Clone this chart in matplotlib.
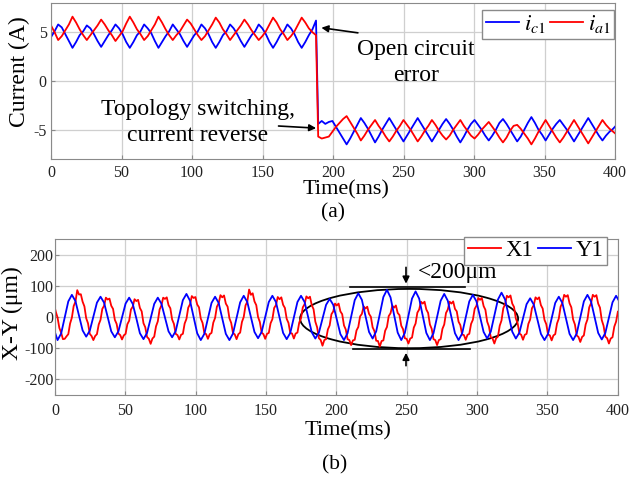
import numpy as np
import matplotlib
matplotlib.use("Agg")
import matplotlib.pyplot as plt
from matplotlib.patches import Ellipse

plt.rcParams['font.family'] = ['Liberation Serif', 'DejaVu Serif']
plt.rcParams['mathtext.fontset'] = 'stix'
plt.rcParams['axes.unicode_minus'] = False

# ---- (a) currents, sampled before and after the switching instant ----
t_pre = np.arange(75) * 2.54
t_post = 189.5 + np.arange(85) * 2.52

ia1_pre = [5.7, 5.0, 4.2, 4.6, 5.2, 5.8, 6.6, 6.0,
           5.3, 4.7, 4.2, 4.7, 5.2, 5.7, 6.3, 5.8,
           5.2, 4.7, 4.1, 4.6, 5.1, 5.9, 6.6, 6.0,
           5.3, 4.8, 4.2, 4.6, 5.2, 5.8, 6.6, 6.0,
           5.3, 4.7, 4.2, 4.7, 5.1, 5.7, 6.3, 5.9,
           5.3, 4.7, 4.2, 4.6, 5.2, 5.8, 6.5, 6.0,
           5.3, 4.8, 4.2, 4.7, 5.2, 5.7, 6.3, 5.8,
           5.2, 4.7, 4.2, 4.6, 5.1, 5.8, 6.5, 6.0,
           5.3, 4.8, 4.2, 4.6, 5.1, 5.8, 6.5, 6.0,
           5.4, 5.0, 4.7]
ic1_pre = [4.5, 5.1, 5.8, 5.5, 4.8, 4.1, 3.4, 4.0,
           4.7, 5.1, 5.7, 5.4, 4.8, 4.1, 3.5, 4.1,
           4.7, 5.2, 5.8, 5.4, 4.8, 4.0, 3.4, 4.0,
           4.7, 5.1, 5.8, 5.4, 4.9, 4.1, 3.4, 4.0,
           4.6, 5.1, 5.8, 5.3, 4.8, 4.1, 3.5, 4.1,
           4.7, 5.1, 5.8, 5.4, 4.8, 4.0, 3.4, 4.0,
           4.7, 5.1, 5.8, 5.4, 4.8, 4.1, 3.5, 4.1,
           4.7, 5.1, 5.8, 5.4, 4.8, 4.0, 3.4, 4.0,
           4.7, 5.1, 5.8, 5.4, 4.8, 4.0, 3.4, 4.0,
           4.7, 5.3, 6.2]
ia1_post = [-5.7, -5.9, -5.8, -5.7, -5.2, -4.7, -4.3, -3.9,
            -3.6, -4.2, -4.8, -5.4, -6.1, -5.6, -5.0, -4.5,
            -4.0, -4.6, -5.1, -5.7, -6.2, -5.7, -5.1, -4.6,
            -4.0, -4.5, -5.0, -5.6, -6.2, -5.7, -5.1, -4.6,
            -4.0, -4.5, -5.1, -5.6, -6.0, -5.6, -5.0, -4.5,
            -4.0, -4.6, -5.1, -5.6, -5.9, -5.5, -5.0, -4.6,
            -4.2, -4.7, -5.2, -5.8, -6.3, -5.8, -5.1, -4.6,
            -4.5, -4.9, -5.4, -5.9, -6.5, -5.9, -5.2, -4.6,
            -4.0, -4.6, -5.2, -5.8, -6.3, -5.8, -5.2, -4.6,
            -4.0, -4.6, -5.2, -5.8, -6.4, -5.8, -5.2, -4.6,
            -4.0, -4.5, -4.9, -5.2, -5.5]
ic1_post = [-4.4, -4.1, -4.4, -4.2, -4.1, -4.7, -5.3, -5.9,
            -6.5, -5.9, -5.2, -4.5, -3.8, -4.3, -4.9, -5.6,
            -6.3, -5.7, -5.0, -4.4, -3.8, -4.4, -5.0, -5.6,
            -6.2, -5.6, -5.0, -4.4, -3.8, -4.4, -5.0, -5.6,
            -6.2, -5.6, -5.0, -4.4, -3.9, -4.4, -5.0, -5.7,
            -6.3, -5.7, -5.0, -4.4, -4.0, -4.5, -5.0, -5.6,
            -6.1, -5.6, -5.0, -4.3, -3.9, -4.4, -5.0, -5.6,
            -6.2, -5.7, -5.0, -4.3, -3.7, -4.3, -5.0, -5.5,
            -6.1, -5.5, -4.9, -4.4, -4.0, -4.5, -5.0, -5.6,
            -6.2, -5.6, -5.0, -4.4, -3.8, -4.4, -5.0, -5.6,
            -6.1, -5.6, -5.2, -4.9, -4.5]

# ---- (b) displacement, Y1 sampled every 2.546 ms, X1 every 1.273 ms ----
t_y = -0.73 + np.arange(159) * 2.546
t_x = -0.73 + np.arange(316) * 1.273

y1 = [-40, -74, -53, -2, 50, 71, 51, 4,
      -43, -63, -44, 1, 46, 65, 46, 0,
      -46, -65, -46, -2, 43, 62, 42, -4,
      -52, -71, -51, -4, 42, 62, 43, -2,
      -46, -65, -45, 4, 54, 74, 52, 0,
      -52, -74, -54, -4, 45, 65, 45, -4,
      -54, -74, -53, -3, 47, 68, 48, 0,
      -48, -68, -48, 0, 48, 68, 48, -2,
      -51, -71, -51, -2, 48, 68, 48, 0,
      -49, -69, -50, -6, 39, 58, 39, -8,
      -55, -74, -52, 1, 54, 76, 55, 4,
      -48, -69, -46, 9, 64, 87, 63, 6,
      -50, -74, -51, 4, 59, 82, 59, 4,
      -51, -74, -52, 0, 52, 74, 52, 0,
      -52, -74, -53, -2, 50, 71, 50, 1,
      -48, -69, -47, 4, 56, 78, 56, 4,
      -47, -69, -50, -4, 41, 60, 40, -7,
      -54, -74, -54, -4, 45, 65, 45, -4,
      -54, -74, -53, -2, 50, 71, 50, 0,
      -51, -72, -51, -2, 47, 68, 48]

x1 = [41, 17, -2, -35, -50, -71, -70,
      -62, -55, -21, -2, 35, 49, 86, 72,
      73, 49, 34, -4, -20, -54, -61, -74,
      -61, -55, -24, -9, 26, 36, 62, 56,
      59, 36, 26, -9, -22, -53, -58, -72,
      -59, -54, -23, -12, 24, 33, 57, 51,
      55, 29, 18, -20, -33, -64, -70, -86,
      -69, -63, -30, -14, 24, 37, 62, 58,
      63, 38, 28, -8, -22, -54, -58, -72,
      -57, -54, -21, -6, 30, 41, 67, 61,
      64, 40, 31, -5, -19, -51, -55, -70,
      -55, -51, -18, -3, 33, 44, 70, 63,
      69, 43, 33, -4, -19, -51, -56, -71,
      -55, -50, -16, 0, 37, 49, 88, 71,
      76, 50, 38, 0, -16, -50, -55, -70,
      -54, -51, -20, -7, 29, 38, 64, 57,
      63, 39, 29, -6, -19, -51, -53, -69,
      -53, -50, -18, -4, 31, 41, 66, 60,
      65, 38, 25, -15, -33, -68, -74, -92,
      -74, -71, -40, -27, 9, 18, 43, 37,
      43, 18, 9, -27, -40, -71, -74, -90,
      -75, -73, -43, -32, 2, 10, 34, 27,
      33, 10, 1, -33, -45, -76, -77, -95,
      -77, -75, -44, -32, 3, 12, 36, 30,
      37, 13, 6, -28, -39, -68, -70, -85,
      -69, -66, -34, -21, 14, 24, 49, 43,
      49, 24, 13, -24, -38, -71, -74, -90,
      -74, -71, -38, -24, 13, 24, 49, 43,
      50, 26, 18, -15, -26, -56, -58, -73,
      -57, -54, -22, -9, 26, 36, 61, 55,
      61, 35, 23, -15, -31, -65, -69, -85,
      -68, -63, -28, -11, 28, 41, 68, 63,
      69, 43, 32, -5, -20, -53, -57, -73,
      -57, -54, -22, -8, 28, 38, 63, 57,
      63, 38, 27, -9, -23, -56, -59, -75,
      -59, -55, -21, -5, 33, 45, 71, 65,
      70, 44, 31, -8, -24, -59, -64, -80,
      -64, -59, -24, -8, 31, 44, 71, 65,
      70, 43, 30, -10, -28, -63, -68, -85,
      -69, -65, -31, -15, 17]

x_ticks = np.arange(0, 401, 50)
BLUE = '#0000ff'
RED = '#ff0000'
FS = 16.5


def style(ax):
    ax.set_xlim(0, 400)
    ax.set_xticks(x_ticks)
    ax.grid(True, color='#cfcfcf', lw=0.9)
    ax.set_axisbelow(True)
    for s in ax.spines.values():
        s.set_color('#8a8a8a')
    ax.tick_params(direction='in', length=3, color='#8a8a8a',
                   labelsize=11.5, labelcolor='#222222')


fig = plt.figure(figsize=(6.33, 4.84), dpi=100)

# (a)
ax1 = fig.add_axes([51/633, 1-159/484, 564/633, 156/484])
style(ax1)
t_a = np.concatenate([t_pre, t_post])
ax1.plot(t_a, ic1_pre + ic1_post, color=BLUE, lw=1.3, label='$i_{c1}$')
ax1.plot(t_a, ia1_pre + ia1_post, color=RED, lw=1.3, label='$i_{a1}$')
ax1.set_ylim(-8, 8)
ax1.set_yticks([-5, 0, 5])
ax1.tick_params(axis='x', pad=4)
ax1.tick_params(axis='y', pad=3)
ax1.set_xlabel('Time(ms)', fontsize=16, va='top')
ax1.xaxis.set_label_coords(0.523, -0.135)
ax1.set_ylabel('Current (A)', fontsize=17, va='center')
ax1.yaxis.set_label_coords(-0.056, 0.56)
ax1.legend(loc='upper right', bbox_to_anchor=(0.998, 0.955), ncol=2,
           fontsize=FS, handlelength=1.45, handletextpad=0.2,
           columnspacing=0.2, borderpad=0.15, borderaxespad=0,
           fancybox=False, framealpha=1, edgecolor='#8a8a8a')
ax1.text(258.6, 1.9, 'Open circuit\nerror', fontsize=17, ha='center',
         va='center', linespacing=1.3)
ax1.annotate('', xy=(189.8, 5.5), xytext=(219.6, 4.9),
             arrowprops=dict(arrowstyle='-|>', color='k', lw=1.2))
ax1.text(104, -4.23, 'Topology switching,\ncurrent reverse', fontsize=17,
         ha='center', va='center', linespacing=1.3)
ax1.annotate('', xy=(190, -4.85), xytext=(159.4, -4.6),
             arrowprops=dict(arrowstyle='-|>', color='k', lw=1.2))
fig.text(333/633, 1-213/484, '(a)', fontsize=15.5, ha='center', va='center')

# (b)
ax2 = fig.add_axes([55/633, 1-395/484, 562.5/633, 156/484])
style(ax2)
ax2.plot(t_x, x1, color=RED, lw=1.3, label='X1')
ax2.plot(t_y, y1, color=BLUE, lw=1.3, label='Y1')
ax2.set_ylim(-250, 250)
ax2.set_yticks([-200, -100, 0, 100, 200])
ax2.tick_params(axis='x', pad=6)
ax2.tick_params(axis='y', pad=1)
ax2.set_xlabel('Time(ms)', fontsize=16, va='center')
ax2.xaxis.set_label_coords(0.521, -0.23)
ax2.set_ylabel('X-Y (μm)', fontsize=17, va='center')
ax2.yaxis.set_label_coords(-0.075, 0.526)
ax2.legend(loc='upper right', bbox_to_anchor=(0.981, 1.013), ncol=2,
           fontsize=FS, handlelength=1.45, handletextpad=0.2,
           columnspacing=0.2, borderpad=0.15, borderaxespad=0,
           fancybox=False, framealpha=1, edgecolor='#8a8a8a')
ax2.add_patch(Ellipse((251.8, -5), 155, 190, fill=False, color='k', lw=1.3))
ax2.plot([209.8, 291.6], [96, 96], color='k', lw=1.2)
ax2.plot([212, 295], [-104, -104], color='k', lw=1.2)
ax2.annotate('', xy=(249.6, 98), xytext=(249.6, 168),
             arrowprops=dict(arrowstyle='-|>', color='k', lw=1.2))
ax2.annotate('', xy=(249.6, -106), xytext=(249.6, -165),
             arrowprops=dict(arrowstyle='-|>', color='k', lw=1.2))
ax2.text(258, 142, '<200μm', fontsize=17, ha='left', va='center')
fig.text(335/633, 1-465/484, '(b)', fontsize=15.5, ha='center', va='center')

fig.savefig('out.png', dpi=100)
